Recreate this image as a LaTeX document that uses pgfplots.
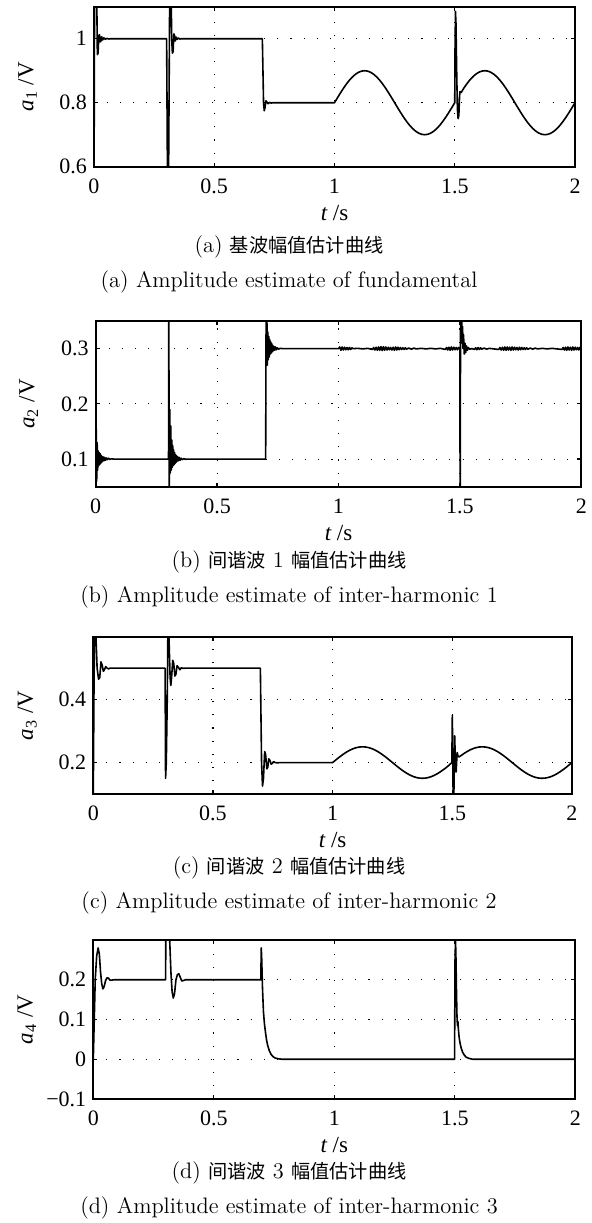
\documentclass[border=0pt]{standalone}
\usepackage{fontspec}
\usepackage{pgfplots}
\pgfplotsset{compat=1.18}
\usepackage{pgfplotstable}
\newfontfamily\timesf{Liberation Serif}
\newfontfamily\cjk{Noto Sans CJK SC}
\newcommand\zh[1]{{\cjk\fontsize{9.6}{12}\selectfont #1}}

\pgfplotstableread{
t v
0 0.5
0.003 1.3
0.009 1.3
0.014 0.95
0.017 0.955
0.020 1.01
0.023 1.012
0.026 0.99
0.029 0.993
0.032 1.006
0.036 0.996
0.041 1.003
0.047 0.998
0.054 1.001
0.062 0.999
0.070 1.0
0.302 1.0
0.306 0.5
0.309 0.45
0.312 0.8
0.316 1.3
0.320 1.2
0.323 1.0
0.326 0.955
0.329 0.96
0.332 1.015
0.335 1.01
0.338 0.993
0.342 1.005
0.346 0.998
0.351 1.002
0.357 0.999
0.365 1.0
0.700 1.0
0.702 0.92
0.705 0.80
0.708 0.775
0.711 0.785
0.715 0.806
0.719 0.802
0.724 0.797
0.730 0.801
0.737 0.799
0.745 0.8
1.0 0.8
1.0125 0.8156
1.025 0.8309
1.0375 0.8454
1.05 0.8588
1.0625 0.8707
1.075 0.8809
1.0875 0.8891
1.1 0.8951
1.1125 0.8988
1.125 0.9
1.1375 0.8988
1.15 0.8951
1.1625 0.8891
1.175 0.8809
1.1875 0.8707
1.2 0.8588
1.2125 0.8454
1.225 0.8309
1.2375 0.8156
1.25 0.8
1.2625 0.7844
1.275 0.7691
1.2875 0.7546
1.3 0.7412
1.3125 0.7293
1.325 0.7191
1.3375 0.7109
1.35 0.7049
1.3625 0.7012
1.375 0.7
1.3875 0.7012
1.4 0.7049
1.4125 0.7109
1.425 0.7191
1.4375 0.7293
1.45 0.7412
1.4625 0.7546
1.475 0.7691
1.4875 0.7844
1.5 0.8
1.501 0.95
1.503 1.085
1.505 1.05
1.508 0.9
1.511 0.78
1.514 0.75
1.517 0.76
1.520 0.82
1.522 0.835
1.527 0.832
1.5375 0.8454
1.55 0.8588
1.5625 0.8707
1.575 0.8809
1.5875 0.8891
1.6 0.8951
1.6125 0.8988
1.625 0.9
1.6375 0.8988
1.65 0.8951
1.6625 0.8891
1.675 0.8809
1.6875 0.8707
1.7 0.8588
1.7125 0.8454
1.725 0.8309
1.7375 0.8156
1.75 0.8
1.7625 0.7844
1.775 0.7691
1.7875 0.7546
1.8 0.7412
1.8125 0.7293
1.825 0.7191
1.8375 0.7109
1.85 0.7049
1.8625 0.7012
1.875 0.7
1.8875 0.7012
1.9 0.7049
1.9125 0.7109
1.925 0.7191
1.9375 0.7293
1.95 0.7412
1.9625 0.7546
1.975 0.7691
1.9875 0.7844
2.0 0.8
}\dataA

\pgfplotstableread{
t v
0 0.03
0.002 0.158
0.004 0.06
0.006 0.13
0.008 0.08
0.010 0.115
0.012 0.088
0.014 0.112
0.016 0.09
0.018 0.11
0.020 0.092
0.022 0.107
0.024 0.094
0.026 0.105
0.028 0.096
0.031 0.104
0.034 0.097
0.037 0.103
0.040 0.098
0.044 0.102
0.048 0.099
0.053 0.1015
0.058 0.0995
0.065 0.1005
0.075 0.1
0.300 0.1
0.301 0.4
0.303 0.0
0.305 0.19
0.307 0.075
0.309 0.16
0.311 0.08
0.313 0.135
0.315 0.085
0.317 0.125
0.319 0.088
0.321 0.117
0.323 0.09
0.325 0.112
0.327 0.092
0.329 0.108
0.331 0.094
0.333 0.106
0.335 0.096
0.338 0.104
0.341 0.097
0.344 0.103
0.348 0.098
0.352 0.1015
0.357 0.099
0.363 0.1007
0.370 0.0997
0.380 0.1
0.700 0.1
0.702 0.38
0.705 0.36
0.707 0.27
0.709 0.33
0.711 0.28
0.713 0.322
0.715 0.285
0.717 0.316
0.719 0.29
0.721 0.312
0.723 0.292
0.725 0.309
0.727 0.294
0.729 0.306
0.731 0.296
0.734 0.304
0.737 0.297
0.740 0.303
0.744 0.298
0.748 0.3015
0.753 0.299
0.760 0.3005
0.770 0.3
1.000 0.300
1.005 0.303
1.010 0.297
1.015 0.303
1.020 0.2975
1.025 0.3025
1.030 0.298
1.035 0.302
1.040 0.298
1.045 0.302
1.050 0.2985
1.055 0.3015
1.060 0.300
1.080 0.3005
1.100 0.2995
1.120 0.3005
1.140 0.2985
1.145 0.302
1.150 0.2975
1.155 0.3025
1.160 0.297
1.165 0.303
1.170 0.297
1.175 0.3035
1.180 0.2965
1.185 0.3035
1.190 0.297
1.195 0.303
1.200 0.2975
1.205 0.3025
1.210 0.298
1.215 0.302
1.220 0.2975
1.225 0.3025
1.230 0.297
1.235 0.303
1.240 0.2975
1.245 0.3025
1.250 0.298
1.255 0.302
1.260 0.2985
1.265 0.3015
1.270 0.2985
1.275 0.3015
1.280 0.299
1.290 0.301
1.300 0.299
1.310 0.301
1.320 0.2995
1.340 0.3005
1.360 0.2995
1.380 0.3005
1.400 0.2995
1.420 0.3005
1.440 0.2985
1.445 0.302
1.450 0.2975
1.455 0.3025
1.460 0.297
1.465 0.303
1.470 0.2975
1.475 0.3025
1.480 0.298
1.485 0.302
1.490 0.298
1.495 0.302
1.500 0.300
1.501 0.0
1.503 0.4
1.505 0.33
1.507 0.36
1.509 0.31
1.511 0.34
1.513 0.30
1.515 0.325
1.518 0.29
1.521 0.31
1.524 0.293
1.527 0.305
1.531 0.297
1.535 0.302
1.540 0.299
1.550 0.3
1.560 0.2985
1.565 0.3015
1.570 0.298
1.575 0.302
1.580 0.2985
1.585 0.3015
1.590 0.299
1.600 0.301
1.610 0.299
1.620 0.3005
1.640 0.2995
1.660 0.2985
1.665 0.302
1.670 0.2975
1.675 0.3025
1.680 0.297
1.685 0.303
1.690 0.297
1.695 0.303
1.700 0.2975
1.705 0.3025
1.710 0.297
1.715 0.303
1.720 0.2975
1.725 0.3025
1.730 0.298
1.735 0.302
1.740 0.2975
1.745 0.3025
1.750 0.298
1.755 0.302
1.760 0.2985
1.765 0.3015
1.770 0.2985
1.775 0.3015
1.780 0.299
1.790 0.301
1.800 0.299
1.810 0.301
1.820 0.2995
1.840 0.3005
1.860 0.2995
1.880 0.3005
1.900 0.2995
1.920 0.2985
1.925 0.302
1.930 0.2975
1.935 0.3025
1.940 0.297
1.945 0.303
1.950 0.2975
1.955 0.3025
1.960 0.297
1.965 0.303
1.970 0.2975
1.975 0.3025
1.980 0.298
1.985 0.302
1.990 0.2975
1.995 0.3025
2.000 0.300
}\dataB

\pgfplotstableread{
t v
0 0.1
0.003 0.45
0.006 0.65
0.010 0.62
0.016 0.5
0.022 0.465
0.027 0.47
0.032 0.52
0.037 0.51
0.042 0.49
0.047 0.496
0.052 0.505
0.058 0.5
0.064 0.498
0.070 0.5
0.300 0.5
0.302 0.15
0.305 0.2
0.309 0.4
0.312 0.65
0.316 0.6
0.321 0.47
0.324 0.445
0.327 0.47
0.332 0.525
0.336 0.515
0.341 0.475
0.345 0.48
0.350 0.508
0.356 0.502
0.362 0.495
0.368 0.5015
0.375 0.4995
0.385 0.5
0.698 0.5
0.703 0.2
0.707 0.125
0.711 0.15
0.716 0.235
0.720 0.225
0.725 0.18
0.729 0.185
0.733 0.212
0.738 0.207
0.743 0.195
0.748 0.197
0.753 0.203
0.760 0.2
0.770 0.199
0.780 0.2
1.0 0.2
1.0125 0.2078
1.025 0.2155
1.0375 0.2227
1.05 0.2294
1.0625 0.2354
1.075 0.2405
1.0875 0.2446
1.1 0.2476
1.1125 0.2494
1.125 0.25
1.1375 0.2494
1.15 0.2476
1.1625 0.2446
1.175 0.2405
1.1875 0.2354
1.2 0.2294
1.2125 0.2227
1.225 0.2155
1.2375 0.2078
1.25 0.2
1.2625 0.1922
1.275 0.1845
1.2875 0.1773
1.3 0.1706
1.3125 0.1646
1.325 0.1595
1.3375 0.1554
1.35 0.1524
1.3625 0.1506
1.375 0.15
1.3875 0.1506
1.4 0.1524
1.4125 0.1554
1.425 0.1595
1.4375 0.1646
1.45 0.1706
1.4625 0.1773
1.475 0.1845
1.4875 0.1922
1.498 0.2
1.500 0.35
1.502 0.2
1.504 0.05
1.507 0.12
1.510 0.285
1.513 0.19
1.516 0.17
1.520 0.232
1.524 0.22
1.528 0.218
1.5375 0.2227
1.55 0.2294
1.5625 0.2354
1.575 0.2405
1.5875 0.2446
1.6 0.2476
1.6125 0.2494
1.625 0.25
1.6375 0.2494
1.65 0.2476
1.6625 0.2446
1.675 0.2405
1.6875 0.2354
1.7 0.2294
1.7125 0.2227
1.725 0.2155
1.7375 0.2078
1.75 0.2
1.7625 0.1922
1.775 0.1845
1.7875 0.1773
1.8 0.1706
1.8125 0.1646
1.825 0.1595
1.8375 0.1554
1.85 0.1524
1.8625 0.1506
1.875 0.15
1.8875 0.1506
1.9 0.1524
1.9125 0.1554
1.925 0.1595
1.9375 0.1646
1.95 0.1706
1.9625 0.1773
1.975 0.1845
1.9875 0.1922
2.0 0.2
}\dataC

\pgfplotstableread{
t v
0 0.0
0.004 0.1
0.008 0.2
0.014 0.26
0.020 0.28
0.025 0.265
0.030 0.22
0.035 0.19
0.040 0.177
0.045 0.183
0.051 0.198
0.057 0.205
0.063 0.204
0.069 0.199
0.076 0.199
0.085 0.2
0.300 0.2
0.301 0.32
0.305 0.40
0.312 0.38
0.317 0.30
0.322 0.22
0.327 0.17
0.332 0.154
0.337 0.165
0.343 0.2
0.349 0.213
0.355 0.215
0.361 0.206
0.367 0.197
0.374 0.198
0.382 0.2
0.695 0.2
0.697 0.28
0.699 0.25
0.702 0.18
0.706 0.12
0.710 0.09
0.714 0.07
0.719 0.048
0.724 0.034
0.730 0.022
0.737 0.013
0.745 0.007
0.755 0.003
0.770 0.001
0.785 0.0
1.499 0.0
1.501 0.25
1.503 0.30
1.505 0.25
1.507 0.17
1.509 0.11
1.511 0.085
1.513 0.095
1.515 0.075
1.518 0.055
1.522 0.04
1.527 0.027
1.533 0.017
1.540 0.010
1.548 0.005
1.560 0.002
1.575 0.0
2.0 0.0
}\dataD

\pgfplotsset{
  panel/.style={
    scale only axis, xmin=0, xmax=2, anchor=north west,
    axis line style={line width=1pt},
    xtick={0,0.5,1,1.5,2}, xticklabels={0,0.5,1,1.5,2},
    tick align=inside, major tick length=2pt,
    tick style={black, line width=0.6pt},
    grid=major,
    major grid style={black, line width=0.55pt, dash pattern=on 0.55pt off 6pt},
    ticklabel style={font=\timesf\fontsize{11}{12}\selectfont},
    label style={font=\timesf\fontsize{11.5}{13}\selectfont},
    xlabel={{\itshape t} /s},
    xlabel style={at={(axis description cs:0.5,0)}, anchor=center, yshift=-23pt},
    ylabel style={at={(axis description cs:-0.138,0.5)}, anchor=center},
    xticklabel style={yshift=-2.5pt},
  },
  curve/.style={black, line width=0.8pt, line join=round, mark=none},
}

\begin{document}
\begin{tikzpicture}
\path[use as bounding box] (0,0) rectangle (296pt,-611.5pt);

\begin{axis}[panel, at={(47pt,-3.35pt)}, width=240.5pt, height=80pt,
  ymin=0.6, ymax=1.1, ytick={0.6,0.8,1}, yticklabels={0.6,0.8,1},
  ylabel={{\itshape a}\textsubscript{1} /V}]
\addplot[curve] table[x=t,y=v] {\dataA};
\end{axis}

\begin{axis}[panel, at={(47.85pt,-160.5pt)}, width=242.8pt, height=82.85pt,
  ymin=0.05, ymax=0.35, ytick={0.1,0.2,0.3}, yticklabels={0.1,0.2,0.3},
  ylabel={{\itshape a}\textsubscript{2} /V}]
\addplot[curve] table[x=t,y=v] {\dataB};
\end{axis}

\begin{axis}[panel, at={(46.65pt,-318.35pt)}, width=239.35pt, height=78.65pt,
  ymin=0.1, ymax=0.6, ytick={0.2,0.4}, yticklabels={0.2,0.4},
  ylabel={{\itshape a}\textsubscript{3} /V}]
\addplot[curve] table[x=t,y=v] {\dataC};
\end{axis}

\begin{axis}[panel, at={(46.65pt,-470pt)}, width=241pt, height=79.5pt,
  ymin=-0.1, ymax=0.3, ytick={-0.1,0,0.1,0.2}, yticklabels={−0.1,0,0.1,0.2},
  ylabel={{\itshape a}\textsubscript{4} /V}]
\addplot[curve] table[x=t,y=v] {\dataD};
\end{axis}

\begin{scope}[every node/.style={font=\fontsize{11.2}{13}\selectfont, inner sep=0pt}]
\node at (144.5pt,-123.5pt) {(a) \zh{基波幅值估计曲线}};
\node at (144.5pt,-141pt) {(a) Amplitude estimate of fundamental};
\node at (144.5pt,-281pt) {(b) \zh{间谐波} 1 \zh{幅值估计曲线}};
\node at (144.5pt,-298.35pt) {(b) Amplitude estimate of inter-harmonic 1};
\node at (144.5pt,-434pt) {(c) \zh{间谐波} 2 \zh{幅值估计曲线}};
\node at (144.5pt,-451.5pt) {(c) Amplitude estimate of inter-harmonic 2};
\node at (144.5pt,-586.5pt) {(d) \zh{间谐波} 3 \zh{幅值估计曲线}};
\node at (144.5pt,-604pt) {(d) Amplitude estimate of inter-harmonic 3};
\end{scope}
\end{tikzpicture}
\end{document}
